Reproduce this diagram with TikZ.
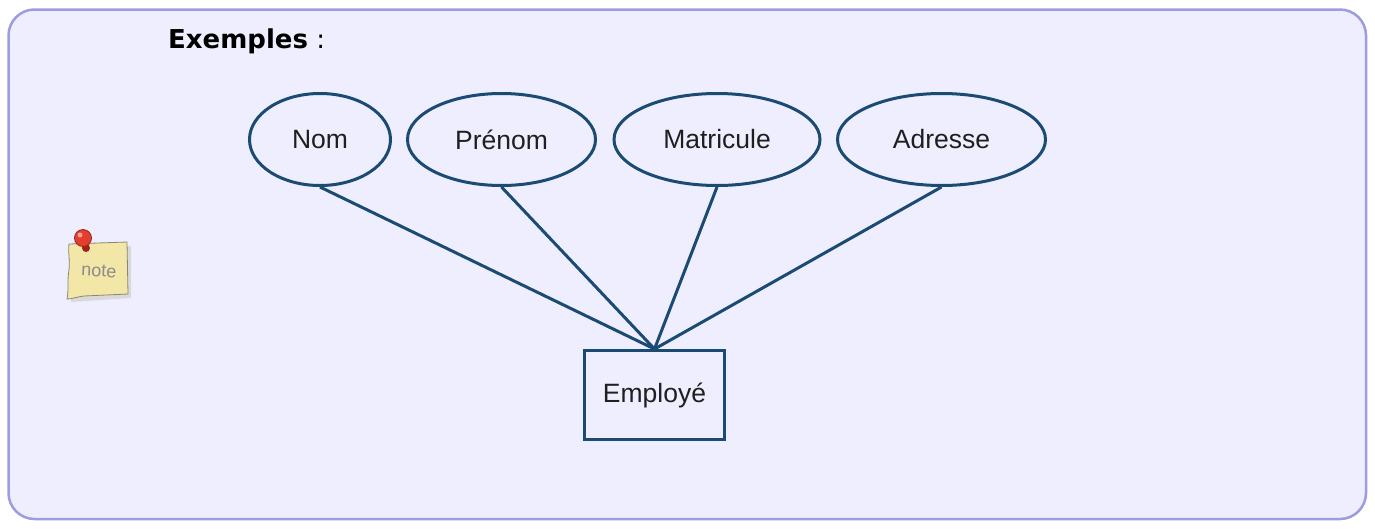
\documentclass[tikz,border=0pt]{standalone}
\usepackage{fontspec}
\setmainfont{Liberation Sans}
\newfontfamily\titlefont{DejaVu Sans}
\definecolor{framebg}{HTML}{EEEEFF}
\definecolor{frameline}{HTML}{9C9CDE}
\definecolor{erblue}{HTML}{1B4A72}
\definecolor{paper}{HTML}{F3E7A8}
\definecolor{paperline}{HTML}{8A8570}
\definecolor{pinred}{HTML}{E2402E}
\definecolor{pindark}{HTML}{9E2418}
\tikzset{
  attr/.style={ellipse, draw=erblue, line width=3pt, inner sep=0pt,
    minimum height=92pt, font=\fontsize{26.5}{30}\selectfont, text=black!88},
  entity/.style={rectangle, draw=erblue, line width=3pt, inner sep=0pt,
    minimum width=140pt, minimum height=89pt, font=\fontsize{26.5}{30}\selectfont, text=black!88},
  link/.style={draw=erblue, line width=3pt}
}
\usetikzlibrary{shapes.geometric}
\begin{document}
\begin{tikzpicture}[x=1pt,y=-1pt]
\useasboundingbox (0,0) rectangle (1375,528);
\fill[white] (0,0) rectangle (1375,528);
\draw[draw=frameline, fill=framebg, line width=2.5pt, rounded corners=26pt] (8.5,9.5) rectangle (1366,519);

% title
\node[anchor=base west, inner sep=0pt, font=\titlefont\fontsize{26}{30}\selectfont] (title) at (168,48) {\textbf{Exemples} :};

% note icon
\fill[black!15] (71,249) -- (131,246) -- (131,298) -- (71,302) -- cycle;
\draw[paperline, fill=paper, line width=0.8pt]
  (69,244) -- (127,242) -- (128,294) -- (84,296)
  .. controls (76,297) and (72,299) .. (67,299)
  .. controls (69,290) and (67,280) .. (69,270)
  .. controls (70,260) and (68,252) .. (69,244) -- cycle;
\node[inner sep=0pt, text=black!45, rotate=-3, font=\fontsize{18}{20}\selectfont] (notetext) at (99,271) {note};
\fill[pindark] (86,248) circle (4);
\draw[pindark, fill=pinred, line width=0.8pt] (83,238) circle (8.5);
\fill[white, opacity=0.5] (80,235) circle (2.5);

% ER diagram
\node[attr, minimum width=141pt] (nom) at (320,139.5) {Nom};
\node[attr, minimum width=188pt] (prenom) at (501.5,139.5) {Prénom};
\node[attr, minimum width=206pt] (matricule) at (717,139.5) {Matricule};
\node[attr, minimum width=208pt] (adresse) at (941.5,139.5) {Adresse};
\node[entity] (employe) at (654.5,395) {Employé};

\draw[link] (nom.south) -- (employe.north);
\draw[link] (prenom.south) -- (employe.north);
\draw[link] (matricule.south) -- (employe.north);
\draw[link] (adresse.south) -- (employe.north);
\end{tikzpicture}
\end{document}
